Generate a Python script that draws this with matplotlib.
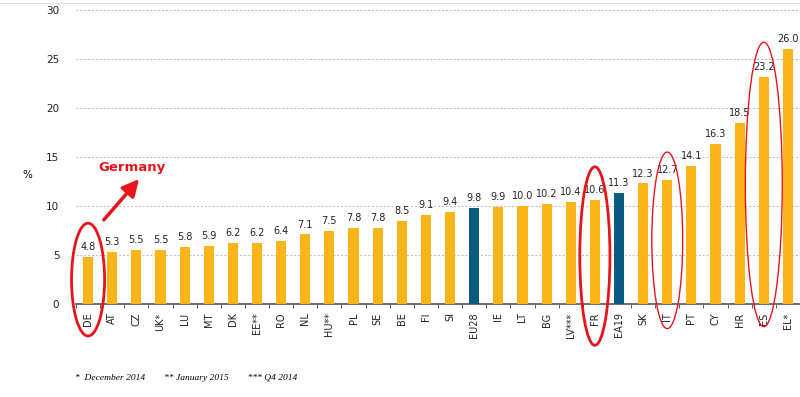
import matplotlib
matplotlib.use("Agg")
import matplotlib.pyplot as plt
from matplotlib.patches import Ellipse, FancyArrowPatch

countries = ["DE", "AT", "CZ", "UK*", "LU", "MT", "DK", "EE**", "RO", "NL",
             "HU**", "PL", "SE", "BE", "FI", "SI", "EU28", "IE", "LT", "BG",
             "LV***", "FR", "EA19", "SK", "IT", "PT", "CY", "HR", "ES", "EL*"]
values = [4.8, 5.3, 5.5, 5.5, 5.8, 5.9, 6.2, 6.2, 6.4, 7.1,
          7.5, 7.8, 7.8, 8.5, 9.1, 9.4, 9.8, 9.9, 10.0, 10.2,
          10.4, 10.6, 11.3, 12.3, 12.7, 14.1, 16.3, 18.5, 23.2, 26.0]
aggregates = ["EU28", "EA19"]
yticks = [0, 5, 10, 15, 20, 25, 30]
footnote = "*  December 2014        ** January 2015        *** Q4 2014"
highlight = {"DE": (2.5, 1.37, 11.5, 2.0), "FR": (4.9, 1.25, 18.2, 2.0),
             "IT": (6.5, 1.28, 18.0, 1.0), "ES": (12.2, 1.53, 29.0, 1.0)}

YELLOW = "#FBB519"
BLUE = "#0B5A82"
RED = "#E8141C"

fig = plt.figure(figsize=(8.0, 3.97), dpi=100)
ax = fig.add_axes([0.095, 0.234, 0.905, 0.741])

x = list(range(len(countries)))
colors = [BLUE if c in aggregates else YELLOW for c in countries]
ax.bar(x, values, width=0.42, color=colors, zorder=3)

for xi, v in zip(x, values):
    ax.text(xi, v + 0.5, f"{v:.1f}", ha="center", va="bottom",
            fontsize=7, color="#222222", zorder=4)

ax.set_xlim(-0.5, len(countries) - 0.5)
ax.set_ylim(0, 30)
ax.set_yticks(yticks)
ax.set_yticklabels([str(t) for t in yticks], fontsize=7.5, color="#222222")
ax.tick_params(axis="y", length=0, pad=12)
ax.set_xticks(x)
ax.set_xticklabels(countries, rotation=90, fontsize=7, color="#222222")
ax.set_xticks([i - 0.5 for i in range(len(countries) + 1)], minor=True)
ax.tick_params(axis="x", which="major", length=0, pad=6)
ax.tick_params(axis="x", which="minor", length=3, color="#444444", direction="out")

ax.yaxis.grid(True, linestyle=(0, (2, 2)), color="#BBBBBB", linewidth=0.7, zorder=0)
for s in ["top", "right", "left"]:
    ax.spines[s].set_visible(False)
ax.spines["bottom"].set_color("#555555")
ax.spines["bottom"].set_linewidth(1.2)

fig.text(27 / 800, 1 - 175 / 397, "%", fontsize=7.5, ha="center", va="center")

for c, (cy, w, h, lw) in highlight.items():
    i = countries.index(c)
    e = Ellipse((i, cy), w, h, fill=False, edgecolor=RED, linewidth=lw,
                clip_on=False, zorder=5)
    ax.add_patch(e)

fig.text(98 / 800, 1 - 168 / 397, "Germany", fontsize=9.5, fontweight="bold",
         color=RED, ha="left", va="center")
arrow = FancyArrowPatch((102 / 800, 1 - 222 / 397), (141 / 800, 1 - 177 / 397),
                        transform=fig.transFigure, arrowstyle="-|>,head_length=10,head_width=5",
                        color=RED, linewidth=2.5, mutation_scale=1)
fig.patches.append(arrow)

fig.text(75 / 800, 1 - 378 / 397, footnote, fontsize=6.8, style="italic",
         family="Liberation Serif", ha="left", va="center")

# faint top border from the original spreadsheet
fig.add_artist(plt.Line2D([0, 1], [1 - 3 / 397, 1 - 3 / 397], color="#DDDDDD", linewidth=0.8))

fig.savefig("out.png", dpi=100)
